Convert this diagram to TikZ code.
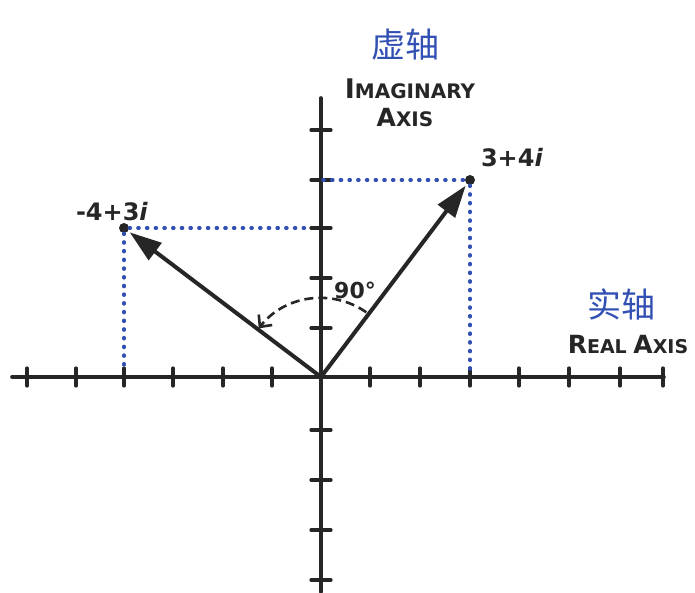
\documentclass[tikz,border=0pt]{standalone}
\usepackage{fontspec}
\setmainfont{DejaVu Sans}
\newfontfamily\cjk{Noto Sans CJK SC}
\usetikzlibrary{arrows.meta,calc}
\definecolor{pen}{RGB}{38,38,38}
\definecolor{bluepen}{RGB}{50,80,180}
\begin{document}
\begin{tikzpicture}[x=1pt,y=1pt,
  axisline/.style={line width=3.6pt,pen,line cap=round},
  tickmark/.style={line width=3.2pt,pen,line cap=round},
  guide/.style={bluepen,line width=3.4pt,line cap=round,dash pattern=on 1.2pt off 7.5pt},
  vec/.style={line width=4pt,pen,shorten >=2pt,-{Triangle[length=32pt,width=21pt]}},
  dot/.style={circle,fill=pen,inner sep=0pt,minimum size=10pt},
  handtext/.style={pen,inner sep=0pt,font=\bfseries},
  cjktext/.style={bluepen,inner sep=0pt,font=\cjk\fontsize{34}{36}\selectfont},
  arcline/.style={line width=2.6pt,pen,dash pattern=on 9pt off 5pt,-{Straight Barb[length=9pt,width=17pt,line width=2.6pt]}}
]
\useasboundingbox (0,0) rectangle (695,592);
\coordinate (O) at (321,215);
\coordinate (XL) at (12,215);
\coordinate (XR) at (664,215);
\coordinate (YT) at (321,494);
\coordinate (YB) at (321,0);
% axes
\draw[axisline] (XL) -- (XR);
\draw[axisline] (YB) -- (YT);
% ticks on real axis
\foreach \x in {27,76,124,173,223,272,370,420,470,519,569,620,663}
  \draw[tickmark] (\x,206) -- (\x,224);
% ticks on imaginary axis
\foreach \y in {462,412,364,314,264,162,112,62,12}
  \draw[tickmark] (311,\y) -- (331,\y);
% points
\node[dot] (P1) at (470,412) {};
\node[dot] (P2) at (124,364) {};
\coordinate (P1y) at (323,412);
\coordinate (P1x) at (470,219);
\coordinate (P2y) at (306,364);
\coordinate (P2x) at (124,222);
% dotted guides
\draw[guide] (P1y) -- (P1);
\draw[guide] (P1) -- (P1x);
\draw[guide] (P2) -- (P2y);
\draw[guide] (P2) -- (P2x);
% vectors
\draw[vec] (O) -- (P1);
\draw[vec] (O) -- (P2);
% 90 degree arc
\draw[arcline] ($(O)+(55:79)$) arc[start angle=55,end angle=142,radius=79];
\node[handtext,font=\bfseries\fontsize{22}{22}\selectfont] (ang) at (355,302) {90°};
% labels
\node[handtext,font=\bfseries\fontsize{24}{24}\selectfont] (L1) at (512,434) {3+4\textit{i}};
\node[handtext,font=\bfseries\fontsize{24}{24}\selectfont] (L2) at (112,380) {-4+3\textit{i}};
\node[cjktext] (imcn) at (405,547) {虚轴};
\node[handtext,font=\bfseries\fontsize{20}{20}\selectfont] (imen) at (410,503) {{\fontsize{27}{27}\selectfont I}MAGINARY};
\node[handtext,font=\bfseries\fontsize{20}{20}\selectfont] (imen2) at (405,474) {{\fontsize{25}{25}\selectfont A}XIS};
\node[cjktext] (recn) at (621,288) {实轴};
\node[handtext,font=\bfseries\fontsize{19}{19}\selectfont] (reen) at (628,247) {{\fontsize{25}{25}\selectfont R}EAL {\fontsize{25}{25}\selectfont A}XIS};
\end{tikzpicture}
\end{document}
